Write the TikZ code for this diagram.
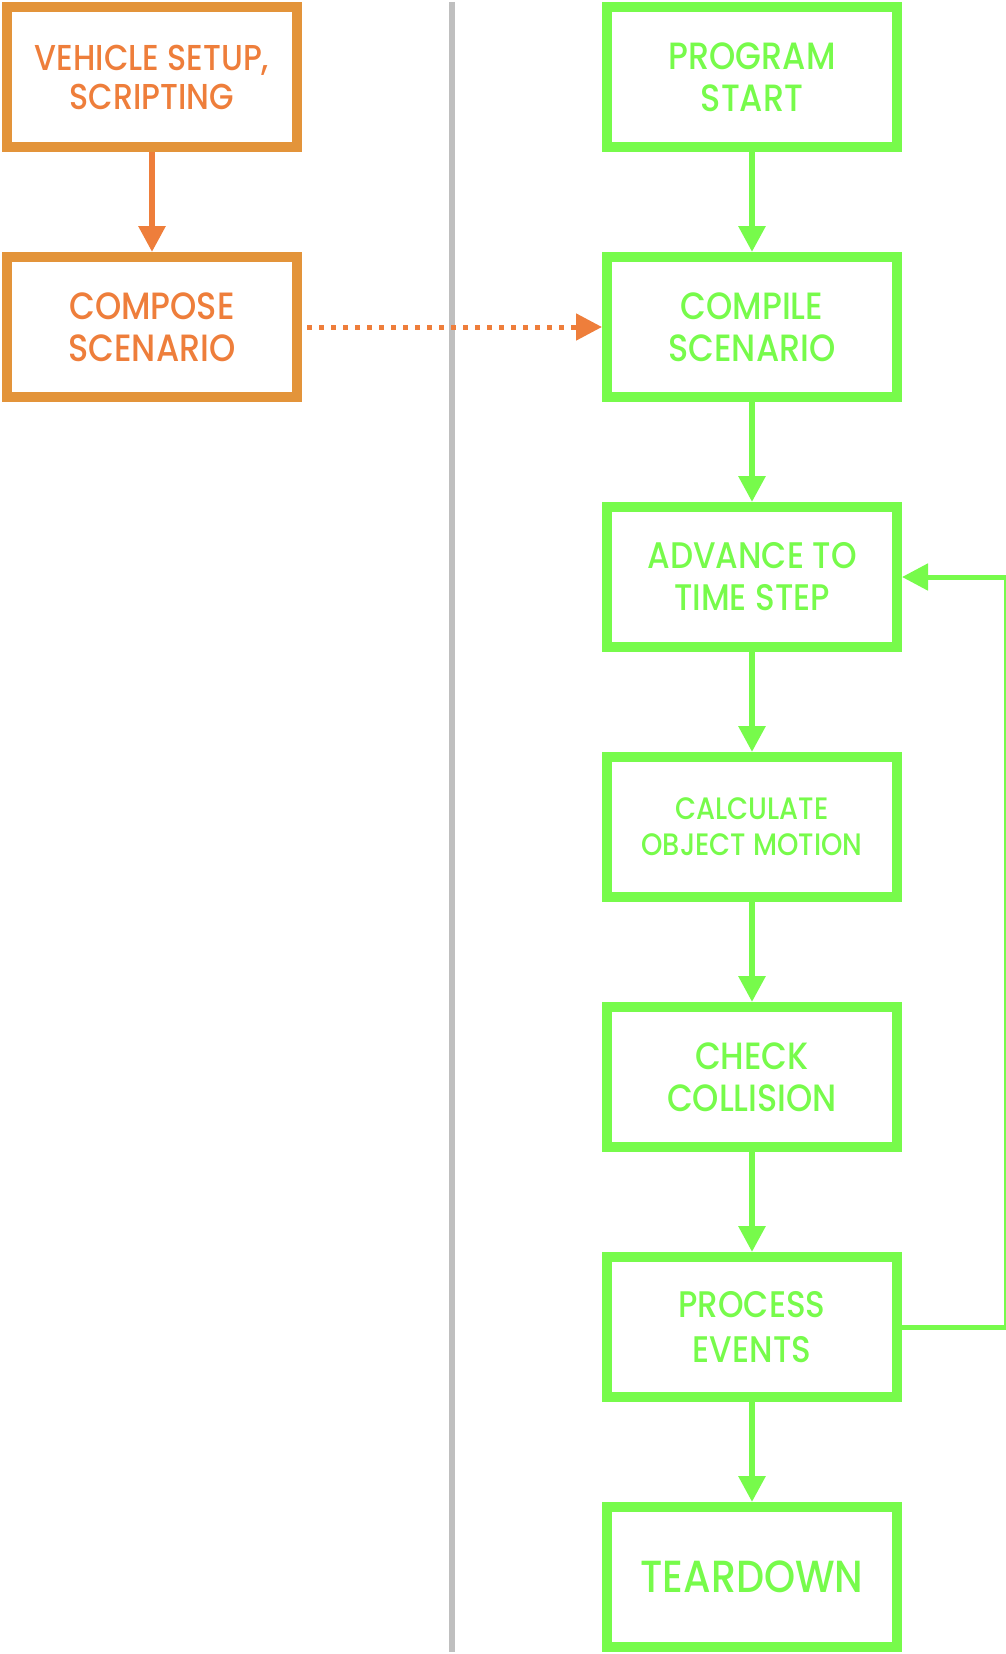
\documentclass[tikz,border=0pt]{standalone}
\usepackage{fontspec}
\setmainfont{Poppins Medium}[FakeStretch=0.88]
\usetikzlibrary{arrows.meta}
\definecolor{obox}{HTML}{E3943A}
\definecolor{otext}{HTML}{EE7E3B}
\definecolor{gbox}{HTML}{77FB4B}
\definecolor{sep}{HTML}{BFBFBF}
\tikzset{
  obx/.style={draw=obox, line width=10pt, minimum width=290pt, minimum height=140pt, inner sep=0pt, align=center, text=otext},
  gbx/.style={draw=gbox, line width=10pt, minimum width=290pt, minimum height=140pt, inner sep=0pt, align=center, text=gbox},
  tip/.style={-{Triangle[length=26pt,width=26pt]}},
  oarr/.style={tip, draw=otext, line width=6pt},
  garr/.style={tip, draw=gbox, line width=6pt},
  big/.style={font=\fontsize{36}{39}\selectfont},
  bigger/.style={font=\fontsize{38}{42}\selectfont},
}
\begin{document}
\begin{tikzpicture}[x=1pt,y=-1pt]
\useasboundingbox (0,0) rectangle (1006,1654);
\draw[sep, line width=6pt] (452,2) coordinate (s1) -- (452,1652) coordinate (s2);
\node[obx, big] (o1) at (152,77) {VEHICLE SETUP,\\SCRIPTING};
\node[obx, bigger] (o2) at (152,327) {COMPOSE\\SCENARIO};
\node[gbx, bigger] (g1) at (752,77) {PROGRAM\\START};
\node[gbx, bigger] (g2) at (752,327) {COMPILE\\SCENARIO};
\node[gbx, font=\fontsize{37}{42}\selectfont] (g3) at (752,577) {ADVANCE TO\\TIME STEP};
\node[gbx, font=\fontsize{31}{36}\selectfont] (g4) at (752,827) {CALCULATE\\OBJECT MOTION};
\node[gbx, bigger] (g5) at (752,1077) {CHECK\\COLLISION};
\node[gbx, font=\fontsize{37}{45}\selectfont] (g6) at (752,1327) {PROCESS\\EVENTS};
\node[gbx, font=\fontsize{45}{50}\selectfont] (g7) at (752,1577) {TEARDOWN};
\draw[oarr] (o1.south) -- (o2.north);
\draw[tip, draw=otext, line width=5pt, dash pattern=on 5pt off 7pt, shorten <=5pt] (o2.east) -- (g2.west);
\draw[garr] (g1.south) -- (g2.north);
\draw[garr] (g2.south) -- (g3.north);
\draw[garr] (g3.south) -- (g4.north);
\draw[garr] (g4.south) -- (g5.north);
\draw[garr] (g5.south) -- (g6.north);
\draw[garr] (g6.south) -- (g7.north);
\draw[tip, draw=gbox, line width=5pt] (g6.east) -- ++(104,0) |- (g3.east);
\end{tikzpicture}
\end{document}
